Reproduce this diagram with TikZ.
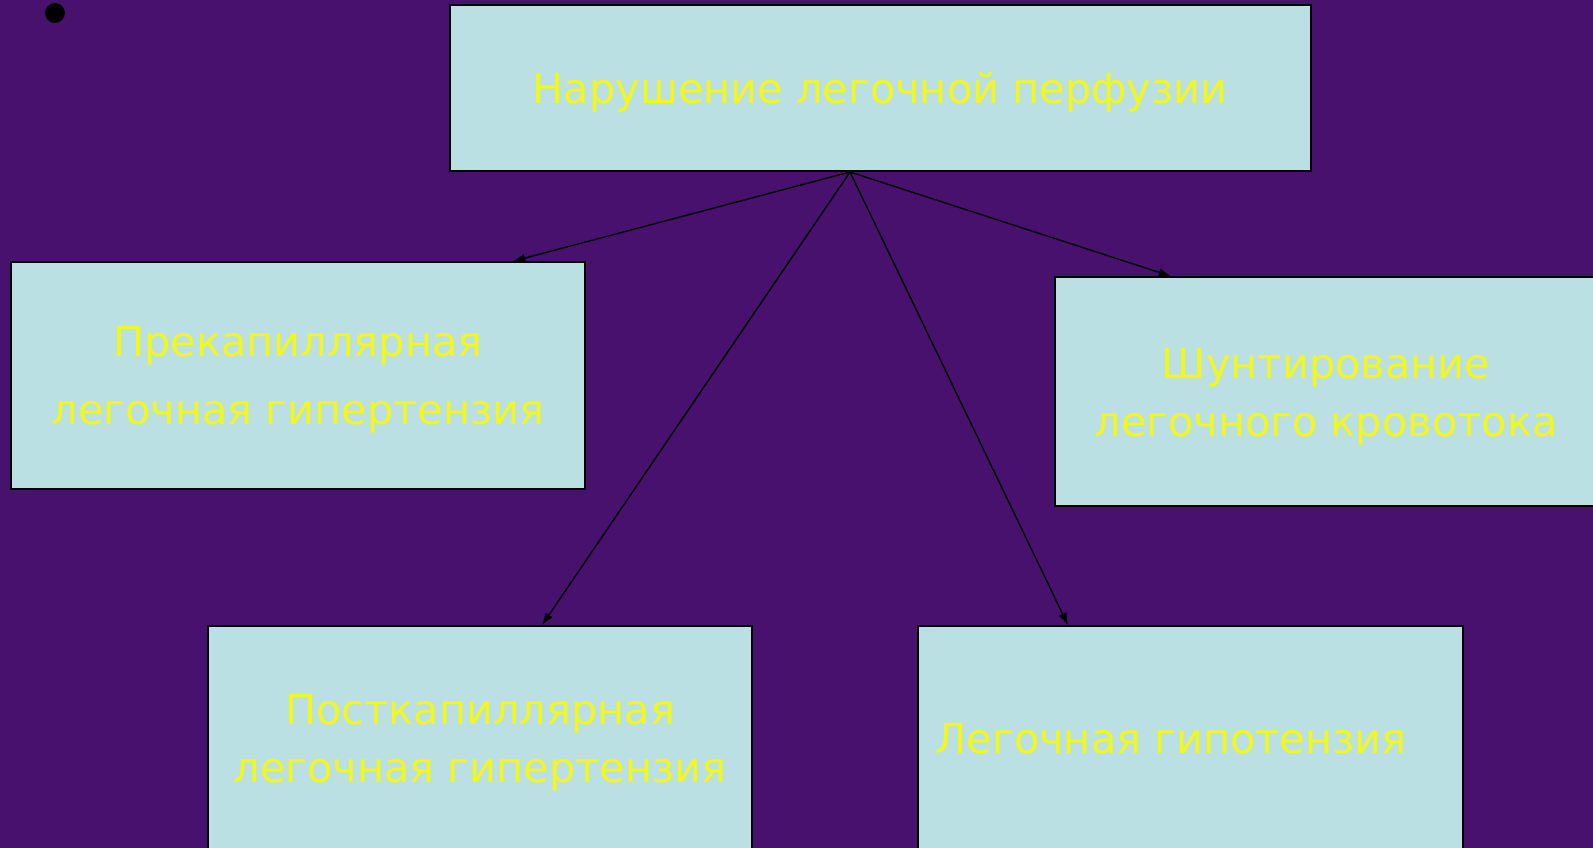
\documentclass[tikz,border=0pt]{standalone}
\usepackage{fontspec}
\setmainfont{DejaVu Sans}
\usepackage{tikz}
\usetikzlibrary{calc, arrows.meta}

\definecolor{slidebg}{RGB}{72,17,110}
\definecolor{boxfill}{RGB}{187,224,227}
\definecolor{labelyellow}{RGB}{242,248,30}

\tikzset{
	box/.style={draw=black, line width=0.9pt, fill=boxfill, inner sep=0pt},
	label/.style={text=labelyellow, align=center, inner sep=0pt, font=\fontsize{23.6pt}{33pt}\selectfont},
	link/.style={-{Latex[length=7pt, width=5pt]}, line width=0.8pt, black}
}

\begin{document}
\begin{tikzpicture}[x=0.02cm, y=-0.02cm]
			\useasboundingbox (0, 0) rectangle (1593, 848);
			\clip (0, 0) rectangle (1593, 848);
			\fill[slidebg] (0, 0) rectangle (1593, 848);
			
			\fill[black] (55, 13) circle (0.2cm);
			
			\node [box, minimum width=17.22cm, minimum height=3.32cm] (top) at (880.5, 88) {};
			\node [box, minimum width=11.48cm, minimum height=4.54cm] (prekap) at (298, 375.5) {};
			\node [box, minimum width=11.1cm, minimum height=4.58cm] (shunt) at (1332.5, 391.5) {};
			\node [box, minimum width=10.88cm, minimum height=4.88cm] (postkap) at (480, 748) {};
			\node [box, minimum width=10.9cm, minimum height=4.88cm] (hypot) at (1190.5, 748) {};
			
			\node [label] (toplabel) at (880, 92) {Нарушение легочной перфузии};
			\node [label] (prekaplabel) at (298, 380) {Прекапиллярная\\[5.6pt]легочная гипертензия};
			\node [label] (shuntlabel) at (1326, 397) {Шунтирование\\легочного кровотока};
			\node [label] (postkaplabel) at (480, 743) {Посткапиллярная\\легочная гипертензия};
			\node [label] (hypotlabel) at (1171, 739) {Легочная гипотензия};
			
			\coordinate (src) at (850, 172);
			
			\draw[link] (src) -- ([xshift=4.3cm]prekap.north);
			\draw[link] (src) -- ([xshift=-3.23cm]shunt.north);
			\draw[link] (src) -- ([xshift=1.24cm]postkap.north);
			\draw[link] (src) -- ([xshift=-2.45cm]hypot.north);
		\end{tikzpicture}
\end{document}
